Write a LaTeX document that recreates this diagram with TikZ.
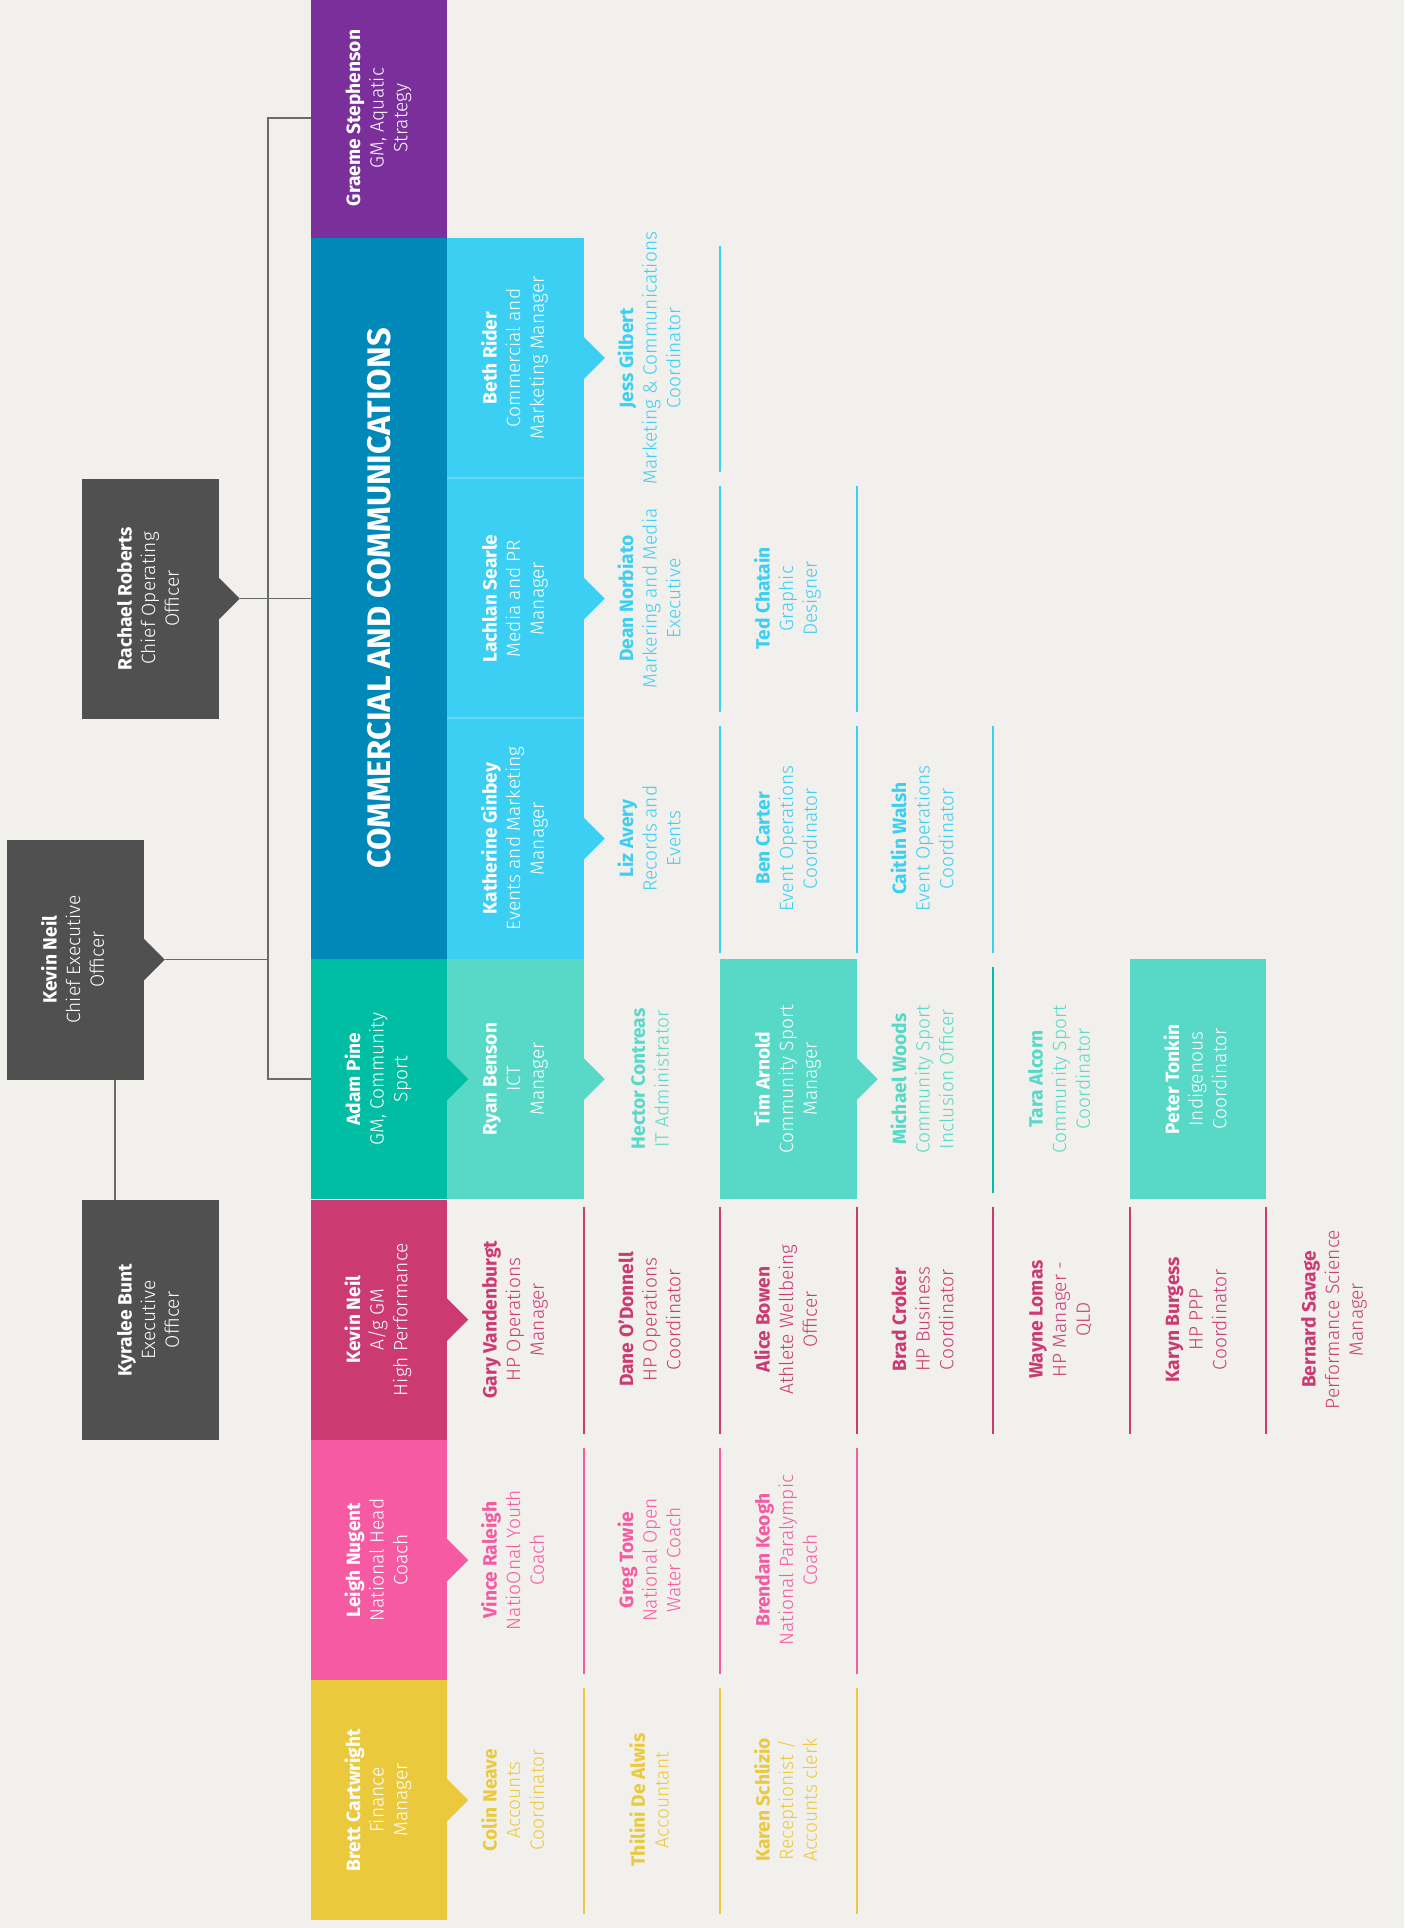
\documentclass[tikz,border=0pt]{standalone}
\usepackage{fontspec}
\setmainfont{Fira Sans Light}[BoldFont={Fira Sans Bold}]
\usepackage{graphicx}

\definecolor{bg}{HTML}{F1F0EC}
\definecolor{cpurple}{HTML}{7A2F9B}
\definecolor{cdblue}{HTML}{0088B8}
\definecolor{clblue}{HTML}{3BCFF3}
\definecolor{cteal}{HTML}{00BEA3}
\definecolor{clteal}{HTML}{58D9C7}
\definecolor{cdpink}{HTML}{CC3A74}
\definecolor{cpink}{HTML}{F65AA2}
\definecolor{cyellow}{HTML}{EBC93D}
\definecolor{cgray}{HTML}{505050}
\definecolor{cline}{HTML}{6A6A6A}

\newcommand{\ptxt}[2]{\rotatebox{90}{\begin{tabular}{@{}c@{}}\textbf{#1}\\#2\end{tabular}}}
\newcommand{\notchfill}[2]{\fill[#2] (#1.east) ++(-1,-22) -- ++(22,22) -- ++(-22,22) -- cycle;}

\begin{document}
\begin{tikzpicture}[x=0.5pt,y=-0.5pt,
  every node/.style={font=\fontsize{9.6}{11.8}\selectfont, inner sep=0pt, outer sep=0pt},
  box/.style={minimum width=68.25pt, minimum height=120pt, text=white},
  conn/.style={draw=cline, line width=0.75pt},
  divider/.style={line width=0.8pt}]

\fill[bg] (0,0) rectangle (1404,1928);
\useasboundingbox (0,0) rectangle (1404,1928);

% executive boxes
\node[box, fill=cgray] (ceo) at (75.5,959.5) {\ptxt{Kevin Neil}{Chief Executive\\Officer}};
\node[box, fill=cgray] (rach) at (150.5,598.5) {\ptxt{Rachael Roberts}{Chief Operating\\Officer}};
\node[box, fill=cgray] (kyra) at (150.5,1320) {\ptxt{Kyralee Bunt}{Executive\\Officer}};

% division heads
\node[box, fill=cpurple] (graeme) at (379,118) {\ptxt{Graeme Stephenson}{GM, Aquatic\\Strategy}};
\node[box, fill=cdblue, minimum height=360.5pt] (comm) at (379,598.5) {\rotatebox{90}{\fontsize{16.3}{20}\selectfont\bfseries COMMERCIAL AND COMMUNICATIONS}};
\node[box, fill=cteal] (adam) at (379,1079) {\ptxt{Adam Pine}{GM, Community\\Sport}};
\node[box, fill=cdpink] (kevhp) at (379,1319.5) {\ptxt{Kevin Neil}{A/g GM\\High Performance}};
\node[box, fill=cpink] (leigh) at (379,1560) {\ptxt{Leigh Nugent}{National Head\\Coach}};
\node[box, fill=cyellow] (brett) at (379,1800) {\ptxt{Brett Cartwright}{Finance\\Manager}};

% second level boxes
\node[box, fill=clblue] (beth) at (515.5,358) {\ptxt{Beth Rider}{Commercial and\\Marketing Manager}};
\node[box, fill=clblue] (lach) at (515.5,598.5) {\ptxt{Lachlan Searle}{Media and PR\\Manager}};
\node[box, fill=clblue] (kath) at (515.5,838.5) {\ptxt{Katherine Ginbey}{Events and Marketing\\Manager}};
\draw[line width=0.6pt, clblue!80!white] (447,478) -- (584,478);
\draw[line width=0.6pt, clblue!80!white] (447,718) -- (584,718);
\node[box, fill=clteal] (ryan) at (515.5,1079) {\ptxt{Ryan Benson}{ICT\\Manager}};
\node[box, fill=clteal] (tim) at (788.5,1079) {\ptxt{Tim Arnold}{Community Sport\\Manager}};
\node[box, fill=clteal] (peter) at (1198,1079) {\ptxt{Peter Tonkin}{Indigenous\\Coordinator}};

% notches
\notchfill{ceo}{cgray}
\notchfill{rach}{cgray}
\notchfill{adam}{cteal}
\notchfill{kevhp}{cdpink}
\notchfill{leigh}{cpink}
\notchfill{brett}{cyellow}
\notchfill{beth}{clblue}
\notchfill{lach}{clblue}
\notchfill{kath}{clblue}
\notchfill{ryan}{clteal}
\notchfill{tim}{clteal}

% connectors
\coordinate (ceotip) at (165,959.5);
\coordinate (rachtip) at (240,598.5);
\coordinate (spine) at (268,0);
\coordinate (kline) at (115,0);
\draw[conn] (graeme.west) -| (spine |- adam.west) -- (adam.west);
\draw[conn] (ceotip) -- (ceotip -| spine);
\draw[conn] (rachtip) -- (rachtip -| comm.west);
\draw[conn] (ceo.south -| kline) -- (kyra.north -| kline);

% staff: commercial
\node[text=clblue] (jess) at (652,358) {\ptxt{Jess Gilbert}{Marketing \& Communications\\Coordinator}};
\node[text=clblue] (dean) at (652,598.5) {\ptxt{Dean Norbiato}{Markering and Media\\Executive}};
\node[text=clblue] (ted) at (788.5,598.5) {\ptxt{Ted Chatain}{Graphic\\Designer}};
\node[text=clblue] (liz) at (652,838.5) {\ptxt{Liz Avery}{Records and\\Events}};
\node[text=clblue] (ben) at (788.5,838.5) {\ptxt{Ben Carter}{Event Operations\\Coordinator}};
\node[text=clblue] (cait) at (925,838.5) {\ptxt{Caitlin Walsh}{Event Operations\\Coordinator}};
\foreach \x in {720} \draw[divider, clblue] (\x,246) -- (\x,472);
\foreach \x in {720,857} \draw[divider, clblue] (\x,486) -- (\x,712);
\foreach \x in {720,857,993} \draw[divider, clblue] (\x,726) -- (\x,953);

% staff: community sport
\node[text=clteal] (hector) at (652,1079) {\ptxt{Hector Contreas}{IT Administrator}};
\node[text=clteal] (michael) at (925,1079) {\ptxt{Michael Woods}{Community Sport\\Inclusion Officer}};
\node[text=clteal] (tara) at (1061.5,1079) {\ptxt{Tara Alcorn}{Community Sport\\Coordinator}};
\draw[divider, cteal] (993,967) -- (993,1193);

% staff: high performance
\node[text=cdpink] (gary) at (515.5,1319.5) {\ptxt{Gary Vandenburgt}{HP Operations\\Manager}};
\node[text=cdpink] (dane) at (652,1319.5) {\ptxt{Dane O'Donnell}{HP Operations\\Coordinator}};
\node[text=cdpink] (alice) at (788.5,1319.5) {\ptxt{Alice Bowen}{Athlete Wellbeing\\Officer}};
\node[text=cdpink] (brad) at (925,1319.5) {\ptxt{Brad Croker}{HP Business\\Coordinator}};
\node[text=cdpink] (wayne) at (1061.5,1319.5) {\ptxt{Wayne Lomas}{HP Manager -\\QLD}};
\node[text=cdpink] (karyn) at (1198,1319.5) {\ptxt{Karyn Burgess}{HP PPP\\Coordinator}};
\node[text=cdpink] (bernard) at (1334.5,1319.5) {\ptxt{Bernard Savage}{Performance Science\\Manager}};
\foreach \x in {584,720,857,993,1130,1266} \draw[divider, cdpink] (\x,1207) -- (\x,1434);

% staff: coaching
\node[text=cpink] (vince) at (515.5,1560) {\ptxt{Vince Raleigh}{NatioOnal Youth\\Coach}};
\node[text=cpink] (greg) at (652,1560) {\ptxt{Greg Towie}{National Open\\Water Coach}};
\node[text=cpink] (brendan) at (788.5,1560) {\ptxt{Brendan Keogh}{National Paralympic\\Coach}};
\foreach \x in {584,720,857} \draw[divider, cpink] (\x,1448) -- (\x,1674);

% staff: finance
\node[text=cyellow] (colin) at (515.5,1800) {\ptxt{Colin Neave}{Accounts\\Coordinator}};
\node[text=cyellow] (thilini) at (652,1800) {\ptxt{Thilini De Alwis}{Accountant}};
\node[text=cyellow] (karen) at (788.5,1800) {\ptxt{Karen Schlizio}{Receptionist /\\Accounts clerk}};
\foreach \x in {584,720,857} \draw[divider, cyellow] (\x,1688) -- (\x,1914);

\end{tikzpicture}
\end{document}
